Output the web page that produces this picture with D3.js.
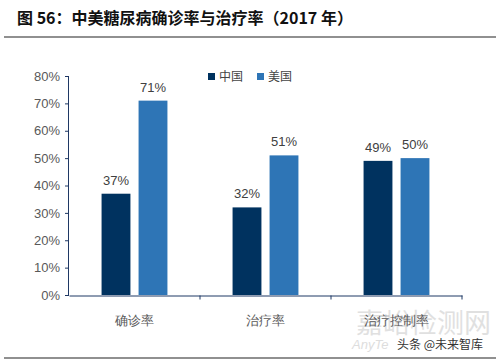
<!DOCTYPE html>
<html>
<head>
<meta charset="utf-8">
<script src="https://cdn.jsdelivr.net/npm/d3@7"></script>
<style>
  body { margin: 0; background: #fff; }
  svg { display: block; }
  .axis text { font-family: Arial, "Liberation Sans", sans-serif; font-size: 13px; fill: #595959; }
  .axis path, .axis line { stroke: #1f3864; }
</style>
</head>
<body>
<svg id="chart" width="500" height="363"></svg>
<script>
const categories = ["确诊率", "治疗率", "治疗控制率"];
const seriesNames = ["中国", "美国"];
const china = [0.37, 0.32, 0.49];
const usa = [0.71, 0.51, 0.50];
const yTicks = [0, 0.1, 0.2, 0.3, 0.4, 0.5, 0.6, 0.7, 0.8];

const colors = ["#00325f", "#2e75b6"];
const margin = { top: 76, right: 38, bottom: 68, left: 69 };
const width = 500, height = 363;

const svg = d3.select("#chart");

// title + rules
svg.append("text")
  .attr("x", 17).attr("y", 24)
  .attr("font-family", "'Noto Sans CJK SC', sans-serif")
  .attr("font-weight", "bold").attr("font-size", 16).attr("fill", "#111")
  .text("图 56：中美糖尿病确诊率与治疗率（2017 年）");
svg.append("line").attr("x1", 4).attr("x2", 496).attr("y1", 37).attr("y2", 37)
  .attr("stroke", "#222").attr("stroke-width", 1.2);
svg.append("line").attr("x1", 4).attr("x2", 496).attr("y1", 358).attr("y2", 358)
  .attr("stroke", "#222").attr("stroke-width", 1.2);

// watermarks (drawn first, faint, behind the chart)
svg.append("text").attr("x", 356).attr("y", 333)
  .attr("font-family", "'Noto Sans CJK SC', sans-serif").attr("font-size", 27)
  .attr("fill", "#c8c8c8").attr("opacity", 0.55).text("嘉峪检测网");
svg.append("text").attr("x", 352).attr("y", 349)
  .attr("font-family", "Arial, sans-serif").attr("font-style", "italic").attr("font-size", 13)
  .attr("fill", "#c8c8c8").attr("opacity", 0.6).text("AnyTe");

const x = d3.scaleBand()
  .domain(categories)
  .range([margin.left, width - margin.right]);

const x1 = d3.scaleBand()
  .domain(seriesNames)
  .range([0, x.bandwidth()])
  .paddingInner(0.22)
  .paddingOuter(0.88);

const y = d3.scaleLinear()
  .domain([0, 0.8])
  .range([height - margin.bottom, margin.top]);

// y axis
svg.append("g")
  .attr("class", "axis")
  .attr("transform", `translate(${margin.left},0)`)
  .call(d3.axisLeft(y).tickValues(yTicks).tickFormat(d3.format(".0%")).tickSize(4).tickPadding(5))
  .call(g => g.select(".domain").attr("d", `M-0.5,${y(0.8)}V${y(0)}`));

// x axis
const xAxis = svg.append("g")
  .attr("class", "axis")
  .attr("transform", `translate(0,${y(0) + 0.5})`)
  .call(d3.axisBottom(x).tickSize(0).tickPadding(20));
xAxis.select(".domain").attr("stroke", "#333");
xAxis.selectAll("text")
  .attr("font-family", "'Noto Sans CJK SC', sans-serif")
  .attr("font-size", 12).attr("fill", "#444");
xAxis.selectAll(".sep")
  .data(categories)
  .join("line")
  .attr("x1", d => x(d) + x.bandwidth())
  .attr("x2", d => x(d) + x.bandwidth())
  .attr("y1", 0).attr("y2", 4)
  .attr("stroke", "#333");

// bars
const rows = categories.map((c, i) => ({ cat: c, values: [china[i], usa[i]] }));
const groups = svg.append("g").selectAll("g")
  .data(rows)
  .join("g")
  .attr("transform", d => `translate(${x(d.cat)},0)`);

groups.selectAll("rect")
  .data(d => d.values.map((v, j) => ({ name: seriesNames[j], v, j })))
  .join("rect")
  .attr("x", d => x1(d.name))
  .attr("width", x1.bandwidth())
  .attr("y", d => y(d.v))
  .attr("height", d => y(0) - y(d.v))
  .attr("fill", d => colors[d.j]);

groups.selectAll("text")
  .data(d => d.values.map((v, j) => ({ name: seriesNames[j], v, j })))
  .join("text")
  .attr("x", d => x1(d.name) + x1.bandwidth() / 2)
  .attr("y", d => y(d.v) - 9)
  .attr("text-anchor", "middle")
  .attr("font-family", "Arial, 'Liberation Sans', sans-serif")
  .attr("font-size", 13).attr("fill", "#404040")
  .text(d => d3.format(".0%")(d.v));

// legend
const legend = svg.append("g").attr("transform", "translate(208,72)");
seriesNames.forEach((n, i) => {
  const g = legend.append("g").attr("transform", `translate(${i * 49},0)`);
  g.append("rect").attr("width", 7).attr("height", 7).attr("y", 1).attr("fill", colors[i]);
  g.append("text").attr("x", 11).attr("y", 9)
    .attr("font-family", "'Noto Sans CJK SC', sans-serif")
    .attr("font-size", 12).attr("fill", "#444").text(n);
});

svg.append("text").attr("x", 397).attr("y", 349)
  .attr("font-family", "'Noto Sans CJK SC', sans-serif").attr("font-size", 12)
  .attr("fill", "#333").text("头条 @未来智库");
</script>
</body>
</html>
